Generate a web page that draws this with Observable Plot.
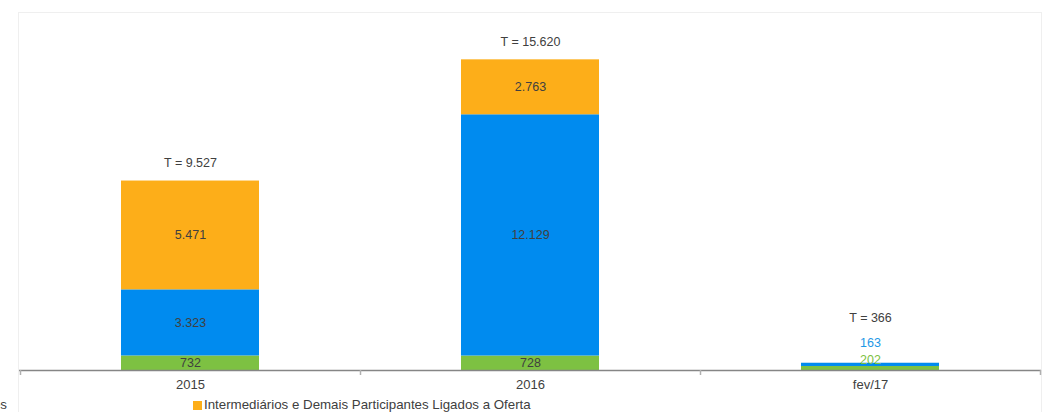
<!DOCTYPE html>
<html><head><meta charset="utf-8">
<script src="https://cdn.jsdelivr.net/npm/d3@7"></script>
<script src="https://cdn.jsdelivr.net/npm/@observablehq/plot@0.6"></script>
<style>
body{margin:0;width:1042px;height:412px;overflow:hidden;position:relative;background:#fff;font-family:"Liberation Sans",Arial,sans-serif;}
#frame{position:absolute;left:18px;top:12px;width:1024px;height:440px;border:1px solid #efefef;box-sizing:border-box;}
#chart{position:absolute;left:0;top:0;}
#legend{position:absolute;top:0;left:0;width:1042px;height:412px;font-size:13.3px;color:#404040;pointer-events:none;}
.item{position:absolute;top:397px;white-space:nowrap;line-height:15px;}
.sw{display:inline-block;width:9px;height:9px;margin-right:2px;vertical-align:-1px;}
</style></head><body>
<div id="frame"></div><div id="chart"></div><div id="legend"></div>
<script>
const categories = ["2015", "2016", "fev/17"];
const seriesNames = ["Emissores", "Investidores", "Intermediários e Demais Participantes Ligados a Oferta"];
const seriesColors = ["#7DC142", "#008BEF", "#FDAE19"];
const green = [732, 728, 202];
const blue = [3323, 12129, 163];
const orange = [5471, 2763, 1];
const totals = [9527, 15620, 366];

const locale = d3.formatLocale({decimal: ",", thousands: ".", grouping: [3], currency: ["R$", ""]});
const fmt = locale.format(",d");

const seriesValues = [green, blue, orange];
const rows = [];
categories.forEach((c, i) => {
  seriesNames.forEach((s, j) => rows.push({cat: c, series: s, value: seriesValues[j][i]}));
});
const totalRows = categories.map((c, i) => ({cat: c, total: totals[i]}));

const labelColor = "#404040";

function boundaryTicks(index, scales, values, dims) {
  const x = scales.x, y0 = scales.y(0);
  const bw = x.bandwidth();
  const step = x.step ? x.step() : (x(categories[1]) - x(categories[0]));
  const gap = (step - bw) / 2;
  const xs = categories.map(c => x(c) - gap);
  xs.push(x(categories[categories.length - 1]) + bw + gap);
  const g = d3.create("svg:g");
  xs.forEach(v => {
    g.append("line").attr("x1", Math.round(v) + 0.5).attr("x2", Math.round(v) + 0.5)
      .attr("y1", y0).attr("y2", y0 + 5).attr("stroke", "#b0b0b0").attr("stroke-width", 1.5);
  });
  return g.node();
}

const chart = Plot.plot({
  width: 1042,
  height: 395,
  marginLeft: 19,
  marginRight: 1,
  marginTop: 12,
  marginBottom: 25,
  style: {fontFamily: "'Liberation Sans', Arial, sans-serif", fontSize: "12.5px", background: "transparent"},
  x: {domain: categories, paddingInner: 0.595, paddingOuter: 0.2975, label: null},
  y: {domain: [0, 18000], axis: null},
  color: {domain: seriesNames, range: seriesColors},
  marks: [
    Plot.barY(rows, {x: "cat", y: "value", fill: "series"}),
    Plot.ruleY([0], {stroke: "#868686", strokeWidth: 1.5}),
    boundaryTicks,
    Plot.axisX({tickSize: 0, tickPadding: 9, fontSize: 13, color: labelColor}),
    Plot.text(rows, Plot.stackY({x: "cat", y: "value", z: "series",
      text: d => d.value >= 500 ? fmt(d.value) : null, fill: labelColor})),
    Plot.text(rows, Plot.stackY2({x: "cat", y: "value", z: "series",
      text: d => (d.value < 500 && d.value > 1 && d.series === seriesNames[0]) ? fmt(d.value) : null,
      fill: "#7DC142", dy: -6})),
    Plot.text(rows, Plot.stackY2({x: "cat", y: "value", z: "series",
      text: d => (d.value < 500 && d.value > 1 && d.series === seriesNames[1]) ? fmt(d.value) : null,
      fill: "#1E98E6", dy: -20})),
    Plot.text(totalRows.filter(d => d.total >= 1000), {x: "cat", y: "total", text: d => "T = " + fmt(d.total), fill: labelColor, dy: -18}),
    Plot.text(totalRows.filter(d => d.total < 1000), {x: "cat", y: "total", text: d => "T = " + fmt(d.total), fill: labelColor, dy: -45})
  ]
});
document.getElementById("chart").appendChild(chart);

const legend = document.getElementById("legend");
// the first legend entries are cut off at the left edge in the reference
const clipped = document.createElement("div");
clipped.className = "item";
clipped.style.right = (1042 - 7) + "px";
clipped.innerHTML = `<span class="sw" style="background:${seriesColors[1]}"></span>${seriesNames[1]}`;
legend.appendChild(clipped);
const item = document.createElement("div");
item.className = "item";
item.style.left = "193px";
item.innerHTML = `<span class="sw" style="background:${seriesColors[2]}"></span>${seriesNames[2]}`;
legend.appendChild(item);
</script>
</body></html>
